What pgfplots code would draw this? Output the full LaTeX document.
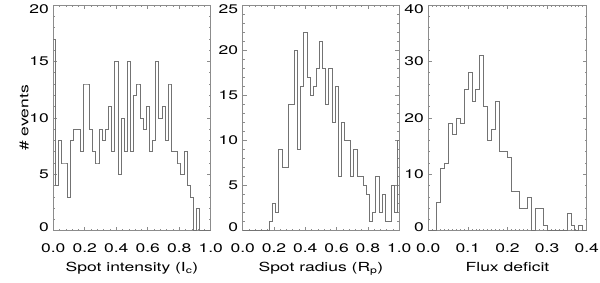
\documentclass[border=0pt]{standalone}
\usepackage{fontspec}
\setmainfont{TeX Gyre Heros}[FakeStretch=1.4]
\usepackage{pgfplots}
\pgfplotsset{compat=1.18}
\newcommand{\fs}{\fontsize{12.5}{15}\selectfont}
\pgfplotsset{
  myhist/.style={
    scale only axis, height=225.7pt, ymin=0,
    axis line style={black!45, line width=0.6pt},
    tick style={black!45, line width=0.6pt},
    tick align=inside, major tick length=4pt, minor tick length=2pt,
    tick label style={font=\fs, black},
    label style={font=\fs},
    xticklabel style={anchor=base, yshift=-22pt},
    yticklabel style={xshift=-1pt},
    xlabel style={at={(axis description cs:0.5,0)}, anchor=base, yshift=-41pt},
  },
  histline/.style={black!55, line width=0.65pt, mark=none},
}
\begin{document}
\begin{tikzpicture}
\useasboundingbox (0,0) rectangle (600pt,282pt);
% Panel 1
\begin{axis}[myhist, at={(53.3pt,51.3pt)}, anchor=south west, width=157.4pt,
  xmin=0, xmax=1, ymax=20,
  xtick={0,0.2,0.4,0.6,0.8,1}, xticklabels={0.0,0.2,0.4,0.6,0.8,1.0},
  ytick={0,5,10,15,20},
  yticklabels={\raisebox{3.5pt}[\height][\depth]{0},5,10,15,\raisebox{-4.5pt}[\height][\depth]{20}},
  minor x tick num=4, minor y tick num=4,
  xlabel={Spot intensity (I\textsubscript{c})}, ylabel={\# events},
  ylabel style={at={(axis description cs:-0.185,0.5)}, anchor=center},
]
\addplot[histline, const plot mark mid] coordinates {
(0,17) (0.02,4) (0.04,8) (0.06,6) (0.08,6) (0.10,3) (0.12,8) (0.14,9) (0.16,9) (0.18,7)
(0.20,13) (0.22,13) (0.24,9) (0.26,7) (0.28,6) (0.30,9) (0.32,8) (0.34,9) (0.36,11) (0.38,7)
(0.40,15) (0.42,5) (0.44,10) (0.46,7) (0.48,15) (0.50,7) (0.52,12) (0.54,13) (0.56,10) (0.58,9)
(0.60,11) (0.62,7) (0.64,8) (0.66,15) (0.68,10) (0.70,11) (0.72,8) (0.74,13) (0.76,7) (0.78,7)
(0.80,6) (0.82,5) (0.84,7) (0.86,4) (0.88,3) (0.90,0) (0.92,2) (0.94,0) (0.96,0) (0.98,0) (1.00,0)
};
\end{axis}
% Panel 2
\begin{axis}[myhist, at={(242.7pt,51.3pt)}, anchor=south west, width=156.5pt,
  xmin=0, xmax=1, ymax=25,
  xtick={0,0.2,0.4,0.6,0.8,1}, xticklabels={0.0,0.2,0.4,0.6,0.8,1.0},
  ytick={0,5,10,15,20,25},
  yticklabels={\raisebox{3.5pt}[\height][\depth]{0},5,10,15,20,\raisebox{-4.5pt}[\height][\depth]{25}},
  minor x tick num=4, minor y tick num=4,
  xlabel={Spot radius (R\textsubscript{p})},
]
\addplot[histline, const plot mark mid] coordinates {
(0,0) (0.02,0) (0.04,0) (0.06,0) (0.08,0) (0.10,0) (0.12,0) (0.14,0) (0.16,0) (0.18,1)
(0.20,3) (0.22,2) (0.24,9) (0.26,7) (0.28,7) (0.30,14) (0.32,14) (0.34,20) (0.36,9) (0.38,16)
(0.40,22) (0.42,17) (0.44,15) (0.46,16) (0.48,18) (0.50,21) (0.52,18) (0.54,14) (0.56,18) (0.58,12)
(0.60,16) (0.62,6) (0.64,12) (0.66,10) (0.68,10) (0.70,6) (0.72,9) (0.74,6) (0.76,6) (0.78,5)
(0.80,4) (0.82,1) (0.84,2) (0.86,6) (0.88,2) (0.90,4) (0.92,1) (0.94,1) (0.96,5) (0.98,2) (1.00,10)
};
\end{axis}
% Panel 3
\begin{axis}[myhist, at={(428.3pt,51.3pt)}, anchor=south west, width=158.4pt,
  xmin=0, xmax=0.4, ymax=40,
  xtick={0,0.1,0.2,0.3,0.4}, xticklabels={0.0,0.1,0.2,0.3,0.4},
  ytick={0,10,20,30,40},
  yticklabels={\raisebox{3.5pt}[\height][\depth]{0},10,20,30,\raisebox{-4.5pt}[\height][\depth]{40}},
  minor x tick num=9, minor y tick num=4,
  xlabel={Flux deficit},
]
\addplot[histline, const plot mark left] coordinates {
(0.00,0) (0.01,0) (0.02,5) (0.03,11) (0.04,12) (0.05,19) (0.06,17) (0.07,20) (0.08,19) (0.09,25)
(0.10,28) (0.11,23) (0.12,25) (0.13,31) (0.14,22) (0.15,16) (0.16,18) (0.17,23) (0.18,14) (0.19,14)
(0.20,13) (0.21,7) (0.22,7) (0.23,4) (0.24,4) (0.25,6) (0.26,0) (0.27,4) (0.28,4) (0.29,1)
(0.30,0) (0.31,0) (0.32,0) (0.33,0) (0.34,0) (0.35,3) (0.36,1) (0.37,0) (0.38,1) (0.39,0) (0.40,0)
};
\end{axis}
\end{tikzpicture}
\end{document}
